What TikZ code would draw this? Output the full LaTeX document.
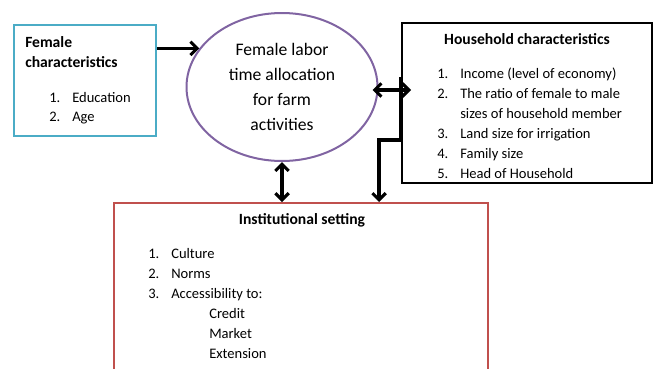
\documentclass[tikz,border=0pt]{standalone}
\usepackage{fontspec}
\setmainfont{Carlito}
\usetikzlibrary{shapes.geometric,arrows.meta,calc}

\definecolor{boxcyan}{RGB}{75,172,198}
\definecolor{ellpurple}{RGB}{128,100,162}
\definecolor{boxred}{RGB}{192,80,77}

\newcommand{\numitem}[2]{\makebox[17.25pt][l]{#1}#2}

\tikzset{
  hdr/.style={font=\fontsize{11.7}{14}\selectfont\bfseries, inner sep=0pt},
  lst/.style={font=\fontsize{10.9}{13}\selectfont, inner sep=0pt, anchor=base west},
  arr/.style={line width=2.3pt, -{Straight Barb[length=5pt,width=10pt]}},
  arrboth/.style={line width=2.3pt, {Straight Barb[length=5pt,width=10pt]}-{Straight Barb[length=5pt,width=10pt]}},
}

\begin{document}
\begin{tikzpicture}[x=0.75pt,y=0.75pt,yscale=-1,xscale=1]
\useasboundingbox (0,0) rectangle (657,368);
\clip (0,0) rectangle (657,368);

%Shape: Rectangle [female]
\node (femalebox) at (85,80.5) [draw=boxcyan, line width=1.5pt, minimum width=106.5pt, minimum height=83.25pt] {};
%Shape: Ellipse
\node (ell) at (282,87) [ellipse, draw=ellpurple, line width=1.5pt, minimum width=143.25pt, minimum height=111pt, align=center, inner sep=0pt, font=\fontsize{13.2}{18.75}\selectfont] {Female labor\\time allocation\\for farm\\activities};
%Shape: Rectangle [household]
\node (hh) at (527,103) [draw=black, line width=1.5pt, minimum width=187.5pt, minimum height=120pt] {};
%Shape: Rectangle [institutional]
\node (inst) at (301,296.5) [draw=boxred, line width=1.5pt, minimum width=280.5pt, minimum height=140.25pt] {};

%Straight Lines
\draw [arr] (femalebox.east |- ell.155) -- (ell.155) ;
\draw [arrboth] (ell.south) -- (ell.south |- inst.north) ;
\draw [arrboth] ($(ell.east)+(-6,3)$) -- ($(hh.west |- ell.east)+(10,3)$) ;
\coordinate (bend) at (379,140);
\draw [arr] (hh.west |- 0,77) -- (hh.west |- bend) -| (bend |- inst.north) ;

% Text Node
\node (ftitle1) at (25,47) [hdr, anchor=base west] {Female};
\node (ftitle2) at (25,67.5) [hdr, anchor=base west] {characteristics};
\node (fa) at (49,102) [lst] {\numitem{1.}{Education}};
\node (fb) at (49,121.5) [lst] {\numitem{2.}{Age}};

% Text Node
\node (htitle) at (527,44) [hdr, anchor=base] {Household characteristics};
\node (ha) at (437,78) [lst] {\numitem{1.}{Income (level of economy)}};
\node (hb) at (437,98) [lst] {\numitem{2.}{The ratio of female to male}};
\node (hb2) at (437,118) [lst] {\numitem{}{sizes of household member}};
\node (hc) at (437,138) [lst] {\numitem{3.}{Land size for irrigation}};
\node (hd) at (437,158) [lst] {\numitem{4.}{Family size}};
\node (he) at (437,178) [lst] {\numitem{5.}{Head of Household}};

% Text Node
\node (ititle) at (302,224) [hdr, anchor=base] {Institutional setting};
\node (ia) at (148,258) [lst] {\numitem{1.}{Culture}};
\node (ib) at (148,278) [lst] {\numitem{2.}{Norms}};
\node (ic) at (148,298) [lst] {\numitem{3.}{Accessibility to:}};
\node (ic1) at (209,318) [lst] {Credit};
\node (ic2) at (209,338) [lst] {Market};
\node (ic3) at (209,358) [lst] {Extension};

\end{tikzpicture}
\end{document}
